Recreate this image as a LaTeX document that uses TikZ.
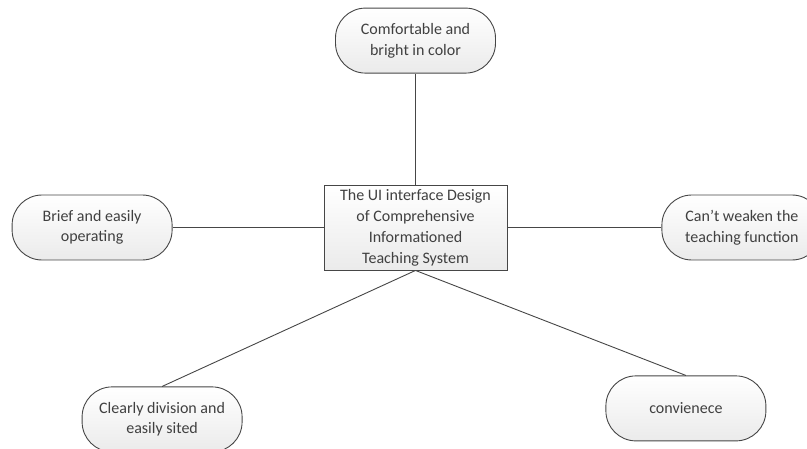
\documentclass[tikz,border=0pt]{standalone}
\usepackage{fontspec}
\setmainfont{Carlito}
\usepackage{tikz}
\usetikzlibrary{positioning}
\definecolor{txtgray}{RGB}{64,64,64}
\definecolor{edgegray}{RGB}{70,70,70}
\tikzstyle{Aidea}=[draw=edgegray,line width=0.9pt,rounded corners=30pt,top color=white,bottom color=black!8,
               minimum width=160pt,minimum height=65pt,inner sep=2pt,align=center,text=txtgray,
               font=\fontsize{16}{20.5}\selectfont]
\tikzstyle{Acore}=[draw=edgegray,line width=0.9pt,top color=white,bottom color=black!8,
               minimum width=183pt,minimum height=85pt,inner sep=1pt,align=center,text=txtgray,
               font=\fontsize{16}{21}\selectfont]
\tikzstyle{Alink}=[every edge/.style={draw=edgegray,line width=0.9pt,-}]
\begin{document}
\begin{tikzpicture}[Alink]
  \useasboundingbox (0pt,0pt) rectangle (807pt,448pt);

	\node[Acore] (core) at (415.5pt,220.5pt) {The UI interface Design\\of Comprehensive\\Informationed\\Teaching System};
	\node[Aidea,above=111pt of core] (top) {Comfortable and\\bright in color};
	\node[Aidea,left=151pt of core] (lft) {Brief and easily\\operating};
	\node[Aidea,right=154pt of core] (rgt) {Can't weaken the\\teaching function};
	\node[Aidea,below left=116pt and 81pt of core.south west,anchor=north east] (bl) {Clearly division and\\easily sited};
	\node[Aidea,below right=105pt and 98pt of core.south east,anchor=north west] (br) {convienece};

	\path (core) edge (top)
	      (core) edge (lft)
	      (core) edge (rgt)
	      (core.south) edge (bl.north)
	      (core.south) edge (br.north);
\end{tikzpicture}
\end{document}
